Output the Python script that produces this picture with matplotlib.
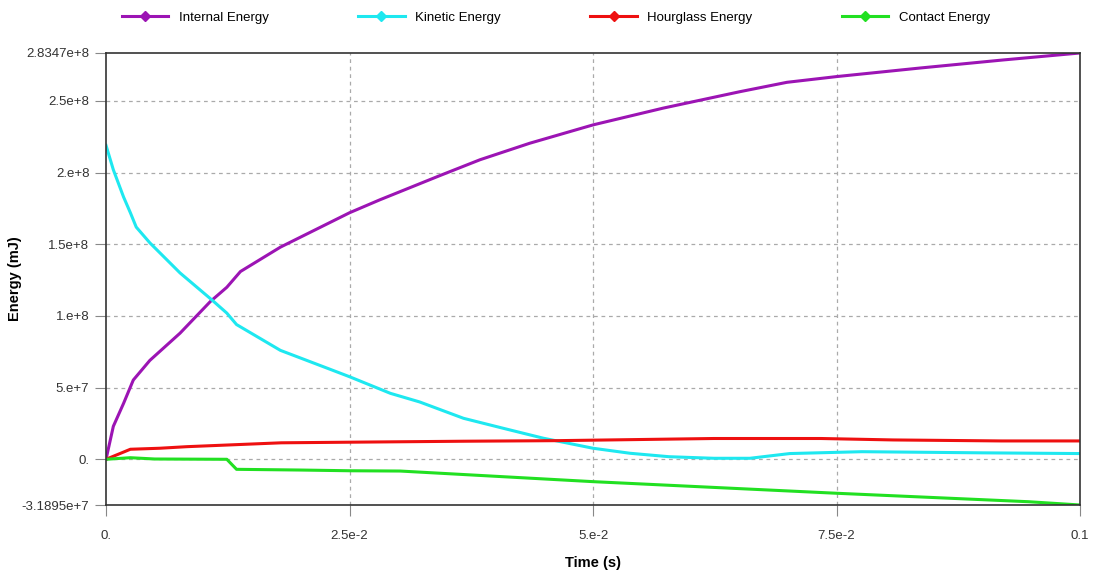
import numpy as np
import matplotlib
matplotlib.use("Agg")
import matplotlib.pyplot as plt

plt.rcParams['font.family'] = ['Liberation Sans', 'DejaVu Sans']

# data (time in s, energy in mJ)
t_internal = [0, 0.00075, 0.0018, 0.0028, 0.0045, 0.0076, 0.0107, 0.0124, 0.0138, 0.0179, 0.025,
              0.0281, 0.0343, 0.0384, 0.0435, 0.05, 0.0572, 0.0651, 0.0699, 0.075, 0.0836, 0.0921, 0.1]
e_internal = [0, 0.23e8, 0.39e8, 0.553e8, 0.69e8, 0.88e8, 1.10e8, 1.20e8, 1.31e8, 1.48e8, 1.72e8,
              1.81e8, 1.98e8, 2.09e8, 2.205e8, 2.333e8, 2.45e8, 2.565e8, 2.63e8, 2.67e8, 2.73e8,
              2.786e8, 2.8347e8]

t_kinetic = [0, 0.00075, 0.0018, 0.0025, 0.0031, 0.0045, 0.0076, 0.0109, 0.0124, 0.0134, 0.0179,
             0.023, 0.025, 0.0292, 0.0322, 0.0367, 0.0408, 0.0449, 0.05, 0.0538, 0.0578, 0.0624,
             0.0661, 0.0702, 0.0776, 0.09, 0.1]
e_kinetic = [2.19e8, 2.02e8, 1.83e8, 1.72e8, 1.62e8, 1.51e8, 1.30e8, 1.11e8, 1.02e8, 0.94e8, 0.76e8,
             0.628e8, 0.576e8, 0.46e8, 0.40e8, 0.286e8, 0.216e8, 0.147e8, 0.077e8, 0.042e8, 0.018e8,
             0.007e8, 0.007e8, 0.04e8, 0.053e8, 0.045e8, 0.04e8]

t_hourglass = [0, 0.0025, 0.0055, 0.0083, 0.0144, 0.018, 0.0263, 0.0367, 0.0463,
               0.0624, 0.0734, 0.0808, 0.0919, 0.1]
e_hourglass = [0, 0.07e8, 0.077e8, 0.088e8, 0.105e8, 0.115e8, 0.12e8, 0.126e8, 0.13e8,
               0.145e8, 0.145e8, 0.135e8, 0.128e8, 0.128e8]

t_contact = [0, 0.0025, 0.005, 0.0124, 0.0134, 0.02, 0.025, 0.0302, 0.05, 0.075, 0.0947, 0.1]
e_contact = [0, 0.011e8, 0.002e8, 0, -0.07e8, -0.075e8, -0.08e8, -0.082e8, -0.156e8, -0.237e8,
             -0.296e8, -0.31895e8]

y_ticks = [-3.1895e7, 0, 5e7, 1e8, 1.5e8, 2e8, 2.5e8, 2.8347e8]
y_labels = ['-3.1895e+7', '0.', '5.e+7', '1.e+8', '1.5e+8', '2.e+8', '2.5e+8', '2.8347e+8']
x_ticks = [0, 0.025, 0.05, 0.075, 0.1]
x_labels = ['0.', '2.5e-2', '5.e-2', '7.5e-2', '0.1']

fig = plt.figure(figsize=(11.01, 5.74), dpi=100)
ax = fig.add_axes([0.0963, 0.1202, 0.8847, 0.7875])

series = [
    (t_internal, e_internal, '#9c14b4', 'Internal Energy'),
    (t_kinetic, e_kinetic, '#1ee8f0', 'Kinetic Energy'),
    (t_hourglass, e_hourglass, '#ee1010', 'Hourglass Energy'),
    (t_contact, e_contact, '#22e022', 'Contact Energy'),
]
for t, e, c, name in series:
    ax.plot(t, e, color=c, lw=2.2, label=name)

ax.set_xlim(0, 0.1)
ax.set_ylim(-3.1895e7, 2.8347e8)
ax.set_xticks(x_ticks)
ax.set_xticklabels(x_labels)
ax.set_yticks(y_ticks)
ax.set_yticklabels(y_labels)
ax.tick_params(direction='out', length=8, color='#888888', labelsize=9.5,
               labelcolor='#333333', pad=4)
ax.tick_params(axis='x', pad=10)

# dashed grid only inside
for yv in y_ticks[1:-1]:
    ax.axhline(yv, color='#aaaaaa', ls=(0, (3, 3)), lw=0.9, zorder=0)
for xv in x_ticks[1:-1]:
    ax.axvline(xv, color='#aaaaaa', ls=(0, (3, 3)), lw=0.9, zorder=0)

for s in ax.spines.values():
    s.set_color('#333333')
    s.set_linewidth(1.2)

ax.set_xlabel('Time (s)', fontweight='bold', fontsize=10.5, labelpad=10)
ax.set_ylabel('Energy (mJ)', fontweight='bold', fontsize=10.5)
ax.yaxis.set_label_coords(-0.086, 0.5)

handles = [plt.Line2D([], [], color=c, lw=2.2, marker='D', markersize=5) for _, _, c, _ in series]
fig.legend(handles, [s[3] for s in series], loc='upper center', bbox_to_anchor=(0.505, 1.0),
           ncol=4, frameon=False, fontsize=9.5, columnspacing=6.8, handlelength=3.5,
           handletextpad=0.8)

fig.savefig('out.png', dpi=100)
